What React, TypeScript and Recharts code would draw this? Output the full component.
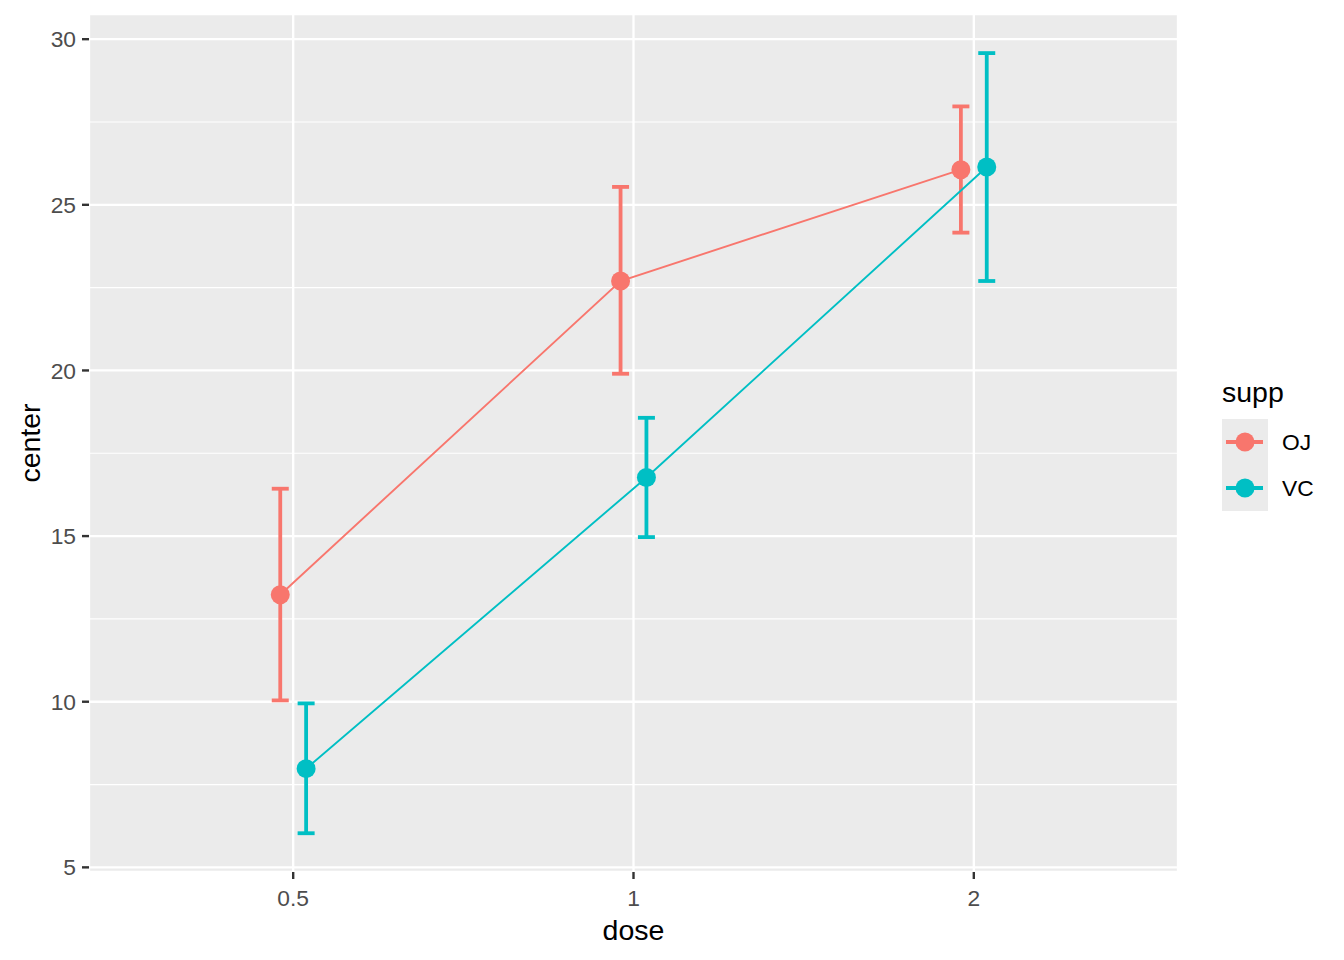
import React from 'react';
import {
  ComposedChart,
  Line,
  XAxis,
  YAxis,
  CartesianGrid,
  ErrorBar,
  ReferenceLine,
  Legend,
  Label,
} from 'recharts';

const doses = ['0.5', '1', '2'];
const ojCenter = [13.23, 22.7, 26.06];
const ojLower = [10.04, 19.9, 24.16];
const ojUpper = [16.43, 25.54, 27.97];
const vcCenter = [7.98, 16.77, 26.14];
const vcLower = [6.03, 14.97, 22.7];
const vcUpper = [9.95, 18.57, 29.58];
const yTicks = [5, 10, 15, 20, 25, 30];
const yMinorTicks = [7.5, 12.5, 17.5, 22.5, 27.5];
const xTicks = [1, 2, 3];
const supps = ['OJ', 'VC'];
const colors: Record<string, string> = { OJ: '#F8766D', VC: '#00BFC4' };
const DODGE = 0.038;

const FONT = '"Liberation Sans", Arial, sans-serif';

const build = (center: number[], lower: number[], upper: number[], shift: number) =>
  doses.map((d, i) => ({
    x: i + 1 + shift,
    dose: d,
    center: center[i],
    err: [center[i] - lower[i], upper[i] - center[i]],
  }));

const ojData = build(ojCenter, ojLower, ojUpper, -DODGE);
const vcData = build(vcCenter, vcLower, vcUpper, DODGE);
const seriesData: Record<string, any[]> = { OJ: ojData, VC: vcData };

const renderLegend = () => (
  <svg width={154} height={160} style={{ fontFamily: FONT, display: 'block' }}>
    <text x={32} y={32} fontSize={28.5} fill="#000000">
      supp
    </text>
    {supps.map((s, i) => (
      <g key={s}>
        <rect x={32} y={49 + i * 46} width={46} height={46} fill="#EBEBEB" />
        <line
          x1={36}
          x2={73}
          y1={72 + i * 46}
          y2={72 + i * 46}
          stroke={colors[s]}
          strokeWidth={3.8}
        />
        <circle cx={55} cy={72 + i * 46} r={9.5} fill={colors[s]} />
        <text x={92} y={72 + i * 46} dominantBaseline="central" fontSize={22.8} fill="#000000">
          {s}
        </text>
      </g>
    ))}
  </svg>
);

const tickStyle = { fill: '#4D4D4D', fontSize: 22.8, fontFamily: FONT };
const tickLineStyle = { stroke: '#333333', strokeWidth: 2.4 };

export default function App() {
  return (
    <div style={{ position: 'absolute', left: 0, top: 0, width: 1344, height: 960, background: '#FFFFFF', fontFamily: FONT }}>
      <ComposedChart
        width={1344}
        height={960}
        margin={{ top: 14, right: 166, bottom: 0, left: 0 }}
      >
        <CartesianGrid fill="#EBEBEB" fillOpacity={1} stroke="#FFFFFF" strokeWidth={2.3} />
        {yMinorTicks.map((v) => (
          <ReferenceLine key={v} y={v} stroke="#FFFFFF" strokeWidth={1.2} />
        ))}
        <XAxis
          type="number"
          dataKey="x"
          domain={[0.4, 3.6]}
          ticks={xTicks}
          allowDataOverflow
          tickFormatter={(v: number) => doses[Math.round(v) - 1]}
          axisLine={false}
          tickLine={tickLineStyle}
          tickSize={7}
          tickMargin={11}
          tick={tickStyle}
          height={88}
        >
          <Label
            content={(props: any) => {
              const vb = props.viewBox || { x: 89, y: 872, width: 1089, height: 88 };
              return (
                <text
                  x={vb.x + vb.width / 2}
                  y={vb.y + 68}
                  textAnchor="middle"
                  fontSize={28.5}
                  fill="#000000"
                  fontFamily={FONT}
                >
                  dose
                </text>
              );
            }}
          />
        </XAxis>
        <YAxis
          type="number"
          domain={[4.86, 30.76]}
          ticks={yTicks}
          allowDataOverflow
          axisLine={false}
          tickLine={tickLineStyle}
          tickSize={7}
          tickMargin={6}
          tick={tickStyle}
          width={89}
        >
          <Label
            content={(props: any) => {
              const vb = props.viewBox || { x: 0, y: 14, width: 89, height: 858 };
              const cx = vb.x + 40;
              const cy = vb.y + vb.height / 2;
              return (
                <text
                  x={cx}
                  y={cy}
                  transform={`rotate(-90 ${cx} ${cy})`}
                  textAnchor="middle"
                  fontSize={28.5}
                  fill="#000000"
                  fontFamily={FONT}
                >
                  center
                </text>
              );
            }}
          />
        </YAxis>
        {supps.map((s) => (
          <Line
            key={s}
            data={seriesData[s]}
            dataKey="center"
            name={s}
            type="linear"
            stroke={colors[s]}
            strokeWidth={1.9}
            dot={{ r: 9.5, fill: colors[s], stroke: 'none', strokeWidth: 0 }}
            activeDot={false}
            isAnimationActive={false}
          >
            <ErrorBar
              dataKey="err"
              direction="y"
              width={8.5}
              stroke={colors[s]}
              strokeWidth={3.8}
              isAnimationActive={false}
            />
          </Line>
        ))}
        <Legend
          layout="vertical"
          align="center"
          verticalAlign="middle"
          content={renderLegend}
          wrapperStyle={{ left: 1190, top: 370, width: 154, height: 160 }}
        />
      </ComposedChart>
    </div>
  );
}
